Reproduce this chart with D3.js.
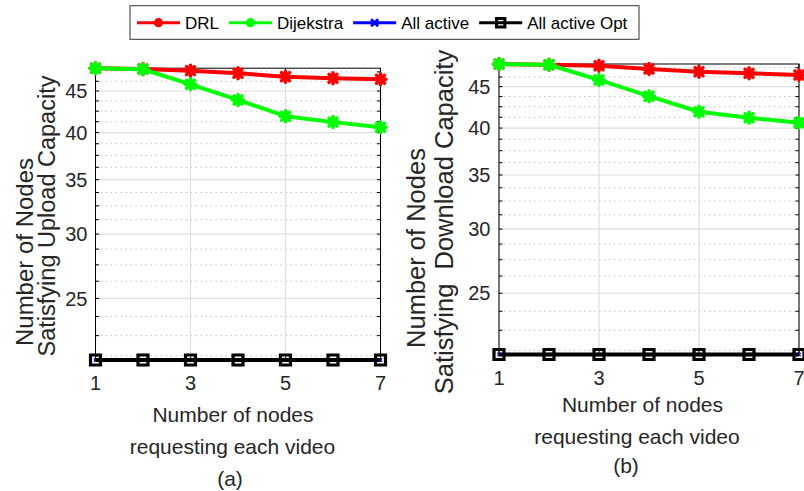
<!DOCTYPE html>
<html>
<head>
<meta charset="utf-8">
<script src="https://cdn.jsdelivr.net/npm/d3@7"></script>
<style>
  html, body { margin: 0; padding: 0; background: #fff; }
  svg { display: block; font-family: "Liberation Sans", Arial, Helvetica, sans-serif; }
</style>
</head>
<body>
<svg id="chart" width="804" height="491"></svg>
<script>
// Number of nodes requesting each video
const xValues = [1, 2, 3, 4, 5, 6, 7];
const xTickValues = [1, 3, 5, 7];
const yTickValues = [25, 30, 35, 40, 45];
const yDomain = [21, 48];

// (a) nodes satisfying upload capacity
const drlUpload = [48, 47.9, 47.67, 47.32, 46.86, 46.65, 46.52];
const dijkstraUpload = [48, 47.86, 45.86, 43.87, 41.9, 41.2, 40.6];
const allActiveUpload = [21, 21, 21, 21, 21, 21, 21];
const allActiveOptUpload = [21, 21, 21, 21, 21, 21, 21];

// (b) nodes satisfying download capacity
const drlDownload = [48, 47.9, 47.77, 47.33, 46.96, 46.75, 46.52];
const dijkstraDownload = [48, 47.9, 45.87, 43.8, 41.9, 41.2, 40.6];
const allActiveDownload = [21, 21, 21, 21, 21, 21, 21];
const allActiveOptDownload = [21, 21, 21, 21, 21, 21, 21];

const seriesNames = ["DRL", "Dijekstra", "All active", "All active Opt"];
const seriesColors = ["#ff0000", "#00ff00", "#0000ff", "#000000"];

const svg = d3.select("#chart");
const textColor = "#262626";

const starPath = "M-5.5,0L5.5,0M0,-5.5L0,5.5M-4,-4L4,4M-4,4L4,-4";
const crossPath = (s) => `M${-s},${-s}L${s},${s}M${-s},${s}L${s},${-s}`;

function drawPanel(cfg) {
  const x = d3.scaleLinear().domain([1, 7]).range(cfg.xRange);
  const y = d3.scaleLog().domain(yDomain).range(cfg.yRange);
  const g = svg.append("g");
  const [x0, x1] = cfg.xRange;
  const [yb, yt] = cfg.yRange;

  // minor grid (dotted) every 1.25 units
  const minor = d3.range(21.25, 48, 1.25).filter(v => Math.abs(v / 5 - Math.round(v / 5)) > 1e-6);
  g.append("g").selectAll("line").data(minor).join("line")
    .attr("x1", x0).attr("x2", x1)
    .attr("y1", d => y(d)).attr("y2", d => y(d))
    .attr("stroke", "#c4c4c4").attr("stroke-width", 1)
    .attr("stroke-dasharray", "1.5,3.5");

  // major grid
  g.append("g").selectAll("line").data(yTickValues).join("line")
    .attr("x1", x0).attr("x2", x1)
    .attr("y1", d => y(d)).attr("y2", d => y(d))
    .attr("stroke", "#dedede").attr("stroke-width", 1.2);
  g.append("g").selectAll("line").data(xTickValues).join("line")
    .attr("x1", d => x(d)).attr("x2", d => x(d))
    .attr("y1", yb).attr("y2", yt)
    .attr("stroke", "#dedede").attr("stroke-width", 1.2);

  // axes box
  g.append("rect").attr("x", x0).attr("y", yt)
    .attr("width", x1 - x0).attr("height", yb - yt)
    .attr("fill", "none").attr("stroke", "#000").attr("stroke-width", 1);

  // inward ticks
  const tl = 3.5;
  const allY = yTickValues.concat(minor);
  g.append("g").selectAll("path").data(allY).join("path")
    .attr("d", d => `M${x0},${y(d)}h${tl}M${x1},${y(d)}h${-tl}`)
    .attr("stroke", "#000").attr("stroke-width", 1);
  g.append("g").selectAll("path").data(xTickValues).join("path")
    .attr("d", d => `M${x(d)},${yb}v${-tl}M${x(d)},${yt}v${tl}`)
    .attr("stroke", "#000").attr("stroke-width", 1);

  // tick labels
  g.append("g").selectAll("text").data(yTickValues).join("text")
    .attr("x", cfg.yLabelX).attr("y", d => y(d)).attr("dy", "0.36em")
    .attr("text-anchor", "end").attr("font-size", 20).attr("fill", textColor)
    .text(d => d);
  g.append("g").selectAll("text").data(xTickValues).join("text")
    .attr("x", d => x(d)).attr("y", cfg.xTickBaseline)
    .attr("text-anchor", "middle").attr("font-size", 20).attr("fill", textColor)
    .text(d => d);

  // series
  const line = d3.line().x((d, i) => x(xValues[i])).y(d => y(d));
  cfg.series.forEach((vals, si) => {
    const col = seriesColors[si];
    g.append("path").datum(vals).attr("d", line)
      .attr("fill", "none").attr("stroke", col).attr("stroke-width", si === 2 ? 2 : 4)
      .attr("stroke-linejoin", "round");
    const mk = g.append("g").selectAll("path").data(vals).join("path")
      .attr("transform", (d, i) => `translate(${x(xValues[i])},${y(d)})`)
      .attr("fill", "none").attr("stroke", col).attr("stroke-linecap", "round");
    if (si < 2) mk.attr("d", starPath).attr("stroke-width", 3.5);
    else if (si === 2) mk.attr("d", crossPath(1.2)).attr("stroke-width", 1.5);
    else mk.attr("d", "M-5,-5H5V5H-5Z").attr("stroke-width", 3.2).attr("stroke-linecap", "butt");
  });

  // y-axis label (two lines)
  cfg.yTitle.forEach(t => {
    g.append("text")
      .attr("transform", `translate(${t.x},${t.y}) rotate(-90)`)
      .attr("text-anchor", "middle").attr("font-size", t.size).attr("fill", textColor)
      .attr("xml:space", "preserve").style("white-space", "pre")
      .text(t.text);
  });
  // x-axis label and panel tag
  cfg.xTitle.forEach(t => {
    g.append("text").attr("x", t.x).attr("y", t.y)
      .attr("text-anchor", "middle").attr("font-size", 21).attr("fill", textColor)
      .text(t.text);
  });
}

drawPanel({
  xRange: [95.5, 380.5], yRange: [360, 68.2],
  yLabelX: 87.5, xTickBaseline: 390,
  series: [drlUpload, dijkstraUpload, allActiveUpload, allActiveOptUpload],
  yTitle: [
    { text: "Number of Nodes", x: 32.7, y: 252, size: 24 },
    { text: "Satisfying Upload Capacity", x: 55, y: 216, size: 23.5 }
  ],
  xTitle: [
    { text: "Number of nodes", x: 233, y: 422 },
    { text: "requesting each video", x: 232.5, y: 454 },
    { text: "(a)", x: 230, y: 486 }
  ]
});

drawPanel({
  xRange: [499, 799], yRange: [354.5, 64],
  yLabelX: 490.5, xTickBaseline: 385,
  series: [drlDownload, dijkstraDownload, allActiveDownload, allActiveOptDownload],
  yTitle: [
    { text: "Number of Nodes", x: 425, y: 248, size: 25.5 },
    { text: "Satisfying  Download Capacity", x: 453.3, y: 222, size: 25.5 }
  ],
  xTitle: [
    { text: "Number of nodes", x: 642.5, y: 411.7 },
    { text: "requesting each video", x: 637, y: 444 },
    { text: "(b)", x: 626, y: 473 }
  ]
});

// legend
const legend = svg.append("g");
legend.append("rect").attr("x", 130).attr("y", 5.7)
  .attr("width", 509).attr("height", 33.6)
  .attr("fill", "#fff").attr("stroke", "#333").attr("stroke-width", 1);
let lx = 137;
const ly = 22.7;
seriesNames.forEach((name, i) => {
  const col = seriesColors[i];
  legend.append("line").attr("x1", lx).attr("x2", lx + 43).attr("y1", ly).attr("y2", ly)
    .attr("stroke", col).attr("stroke-width", 3);
  const cx = lx + 21.5;
  if (i < 2) {
    legend.append("circle").attr("cx", cx).attr("cy", ly).attr("r", 4.6).attr("fill", col);
  } else if (i === 2) {
    legend.append("path").attr("d", crossPath(3.5)).attr("transform", `translate(${cx},${ly})`)
      .attr("stroke", col).attr("stroke-width", 3).attr("fill", "none");
  } else {
    legend.append("path").attr("d", "M-4.2,-4.2H4.2V4.2H-4.2Z").attr("transform", `translate(${cx},${ly})`)
      .attr("stroke", col).attr("stroke-width", 3).attr("fill", "none");
  }
  const t = legend.append("text").attr("x", lx + 48).attr("y", 29)
    .attr("font-size", 17).attr("fill", "#000").text(name);
  lx += 48 + t.node().getComputedTextLength() + 10;
});
</script>
</body>
</html>
